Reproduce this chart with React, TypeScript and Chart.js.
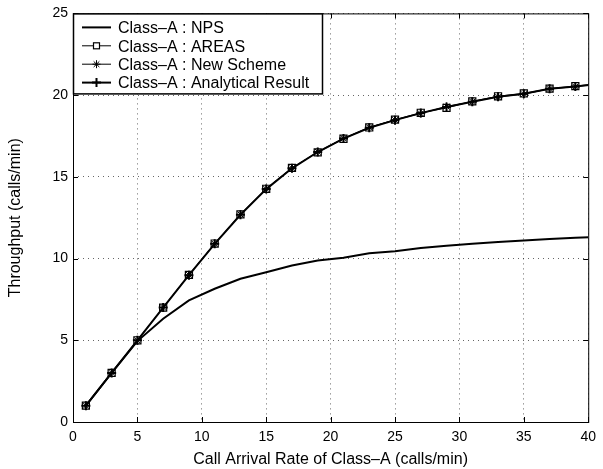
import React, { useEffect, useRef } from "react";
import { Chart, registerables } from "chart.js";

Chart.register(...registerables);

const xValues = [1, 3, 5, 7, 9, 11, 13, 15, 17, 19, 21, 23, 25, 27, 29, 31, 33, 35, 37, 39, 41];
const npsValues = [1, 3, 4.95, 6.32, 7.44, 8.15, 8.76, 9.16, 9.57, 9.88, 10.05, 10.33, 10.45, 10.65, 10.79, 10.9, 11.02, 11.1, 11.2, 11.28, 11.32];
const areasValues = [1, 3, 5, 7, 9, 10.92, 12.7, 14.27, 15.55, 16.5, 17.33, 18.02, 18.5, 18.92, 19.22, 19.62, 19.93, 20.1, 20.4, 20.55, 20.72];
const newSchemeValues = [1, 3, 5, 7, 9, 10.9, 12.7, 14.26, 15.53, 16.53, 17.36, 18.02, 18.48, 18.88, 19.3, 19.6, 19.9, 20.06, 20.38, 20.52, 20.7];
const analyticalValues = [1, 3, 5, 7, 8.98, 10.9, 12.68, 14.25, 15.52, 16.52, 17.34, 18.0, 18.47, 18.9, 19.27, 19.6, 19.9, 20.08, 20.39, 20.53, 20.7];
const xTicks = [0, 5, 10, 15, 20, 25, 30, 35, 40];
const yTicks = [0, 5, 10, 15, 20, 25];
const seriesLabels = ["Class\u2013A : NPS", "Class\u2013A : AREAS", "Class\u2013A : New Scheme", "Class\u2013A : Analytical Result"];
const xTitle = "Call Arrival Rate of Class\u2013A (calls/min)";
const yTitle = "Throughput (calls/min)";

const FONT = "'Liberation Sans', Arial, Helvetica, sans-serif";

const toPoints = (ys: number[]) => xValues.map((x, i) => ({ x, y: ys[i] }));

type SeriesStyle = { lineWidth: number; pointStyle: any; pointRadius: number; pointBorderWidth: number };
const styles: SeriesStyle[] = [
  { lineWidth: 2, pointStyle: false, pointRadius: 0, pointBorderWidth: 0 },
  { lineWidth: 1, pointStyle: "rect", pointRadius: 5, pointBorderWidth: 1.2 },
  { lineWidth: 1, pointStyle: "star", pointRadius: 4, pointBorderWidth: 1 },
  { lineWidth: 2, pointStyle: "cross", pointRadius: 4.5, pointBorderWidth: 2 },
];

function drawMarker(ctx: CanvasRenderingContext2D, style: any, x: number, y: number, r: number) {
  ctx.beginPath();
  if (style === "rect") {
    ctx.fillStyle = "#fff";
    ctx.fillRect(x - r * 0.6, y - r * 0.6, r * 1.2, r * 1.2);
    ctx.strokeRect(x - r * 0.6, y - r * 0.6, r * 1.2, r * 1.2);
  } else if (style === "star") {
    for (let k = 0; k < 4; k++) {
      const a = (k * Math.PI) / 4;
      ctx.moveTo(x - Math.cos(a) * r, y - Math.sin(a) * r);
      ctx.lineTo(x + Math.cos(a) * r, y + Math.sin(a) * r);
    }
    ctx.stroke();
  } else if (style === "cross") {
    ctx.moveTo(x - r, y);
    ctx.lineTo(x + r, y);
    ctx.moveTo(x, y - r);
    ctx.lineTo(x, y + r);
    ctx.stroke();
  }
}

const framePlugin = {
  id: "frameAndLegend",
  afterDraw(chart: any) {
    const { ctx, chartArea } = chart;
    const { left, right, top, bottom } = chartArea;
    const xs = chart.scales.x;
    const ys = chart.scales.y;
    ctx.save();
    ctx.strokeStyle = "#000";
    ctx.lineWidth = 1;
    ctx.setLineDash([]);
    ctx.strokeRect(left + 0.5, top + 0.5, right - left, bottom - top);
    ctx.beginPath();
    const tl = 5;
    xTicks.forEach((v) => {
      const px = Math.round(xs.getPixelForValue(v)) + 0.5;
      ctx.moveTo(px, bottom);
      ctx.lineTo(px, bottom - tl);
      ctx.moveTo(px, top);
      ctx.lineTo(px, top + tl);
    });
    yTicks.forEach((v) => {
      const py = Math.round(ys.getPixelForValue(v)) + 0.5;
      ctx.moveTo(left, py);
      ctx.lineTo(left + tl, py);
      ctx.moveTo(right, py);
      ctx.lineTo(right - tl, py);
    });
    ctx.stroke();

    // legend box
    const bx = left + 0.5;
    const by = top + 0.5;
    const bw = 249;
    const bh = 80;
    ctx.fillStyle = "#fff";
    ctx.fillRect(bx, by, bw, bh);
    ctx.lineWidth = 1.5;
    ctx.strokeRect(bx, by, bw, bh);
    ctx.font = `16px ${FONT}`;
    ctx.textBaseline = "alphabetic";
    ctx.textAlign = "left";
    seriesLabels.forEach((label, i) => {
      const base = top + 19.7 + i * 18.4;
      const y = base - 5.7;
      const st = styles[i];
      ctx.strokeStyle = "#000";
      ctx.lineWidth = st.lineWidth;
      ctx.beginPath();
      ctx.moveTo(left + 9, y);
      ctx.lineTo(left + 38, y);
      ctx.stroke();
      if (st.pointStyle) {
        ctx.lineWidth = st.pointBorderWidth;
        drawMarker(ctx, st.pointStyle, left + 23.5, y, st.pointRadius);
      }
      ctx.fillStyle = "#000";
      ctx.fillText(label, left + 45, base);
    });
    ctx.restore();
  },
};

export default function App() {
  const ref = useRef<HTMLCanvasElement>(null);
  useEffect(() => {
    if (!ref.current) return;
    const seriesValues = [npsValues, areasValues, newSchemeValues, analyticalValues];
    const chart = new Chart(ref.current, {
      type: "line",
      data: {
        datasets: seriesValues.map((vals, i) => ({
          label: seriesLabels[i],
          data: toPoints(vals),
          borderColor: "#000",
          backgroundColor: "#fff",
          borderWidth: styles[i].lineWidth,
          pointStyle: styles[i].pointStyle,
          pointRadius: styles[i].pointRadius,
          pointBorderWidth: styles[i].pointBorderWidth,
          pointBorderColor: "#000",
          pointBackgroundColor: "rgba(255,255,255,0)",
          tension: 0,
          fill: false,
        })),
      },
      options: {
        animation: false,
        responsive: false,
        devicePixelRatio: 1,
        layout: { padding: { left: 0, top: 12, right: 10, bottom: 0 } },
        plugins: { legend: { display: false }, tooltip: { enabled: false } },
        scales: {
          x: {
            type: "linear",
            min: 0,
            max: 40,
            afterFit: (s: any) => {
              s.height = 47;
            },
            afterBuildTicks: (s: any) => {
              s.ticks = xTicks.map((v) => ({ value: v }));
            },
            ticks: { font: { family: FONT, size: 14 }, color: "#000", padding: 7, maxRotation: 0 },
            grid: { color: "rgba(0,0,0,0.6)", lineWidth: 1, drawTicks: false },
            border: { display: false, dash: [1, 4] },
            title: { display: true, text: xTitle, font: { family: FONT, size: 16 }, color: "#000", padding: { top: 3.5, bottom: 0 } },
          },
          y: {
            type: "linear",
            min: 0,
            max: 25,
            afterFit: (s: any) => {
              s.width = 73;
            },
            afterBuildTicks: (s: any) => {
              s.ticks = yTicks.map((v) => ({ value: v }));
            },
            ticks: { font: { family: FONT, size: 14 }, color: "#000", padding: 5 },
            grid: { color: "rgba(0,0,0,0.6)", lineWidth: 1, drawTicks: false },
            border: { display: false, dash: [1, 4] },
            title: { display: true, text: yTitle, font: { family: FONT, size: 16 }, color: "#000", padding: { top: 5.5, bottom: 0 } },
          },
        },
      },
      plugins: [framePlugin],
    });
    return () => chart.destroy();
  }, []);
  return (
    <div style={{ position: "absolute", left: 0, top: 0, width: 603, height: 469, background: "#fff" }}>
      <canvas ref={ref} width={603} height={469} style={{ width: 603, height: 469, display: "block" }} />
    </div>
  );
}
